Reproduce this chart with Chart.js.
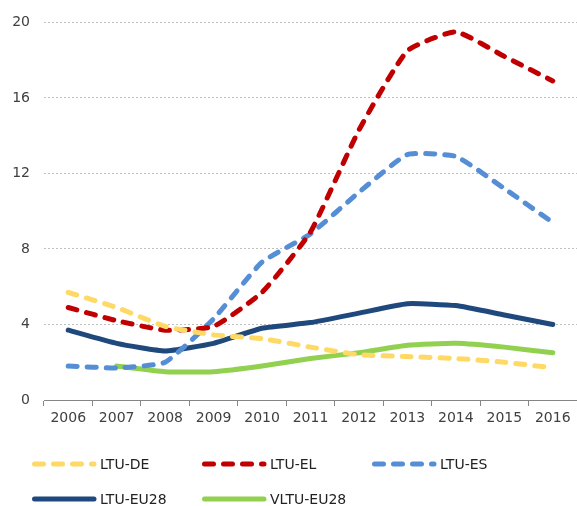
<!DOCTYPE html>
<html>
<head>
<meta charset="utf-8">
<script src="https://cdn.jsdelivr.net/npm/chart.js@4"></script>
<style>
  html, body { margin: 0; padding: 0; background: #fff; }
  #wrap { width: 577px; height: 506px; position: relative; }
</style>
</head>
<body>
<div id="wrap"><canvas id="chart"></canvas></div>
<script>
const years = ["2006", "2007", "2008", "2009", "2010", "2011", "2012", "2013", "2014", "2015", "2016"];
const ltuDe = [5.7, 4.9, 3.9, 3.45, 3.25, 2.8, 2.4, 2.3, 2.2, 2.0, 1.7];
const ltuEl = [4.9, 4.2, 3.7, 3.9, 5.7, 8.9, 14.3, 18.5, 19.5, 18.2, 16.9];
const ltuEs = [1.8, 1.7, 2.0, 4.3, 7.3, 8.8, 11.0, 13.0, 12.9, 11.2, 9.4];
const ltuEu28 = [3.7, 3.0, 2.6, 3.0, 3.8, 4.1, 4.6, 5.1, 5.0, 4.5, 4.0];
const vltuEu28 = [null, 1.8, 1.5, 1.5, 1.8, 2.2, 2.5, 2.9, 3.0, 2.8, 2.5];
const yTicks = [0, 4, 8, 12, 16, 20];

const FONT = "'DejaVu Sans', Verdana, sans-serif";
const DASH = [9, 10];

function series(label, data, color, dashed) {
  return {
    label,
    data,
    borderColor: color,
    backgroundColor: color,
    borderWidth: 5,
    borderDash: dashed ? DASH : [],
    borderCapStyle: "round",
    borderJoinStyle: "round",
    pointRadius: 0,
    tension: 0.15,
    fill: false,
    spanGaps: false,
  };
}

// legend drawn in a fixed grid like the original
const gridLegend = {
  id: "gridLegend",
  afterDraw(chart) {
    const ctx = chart.ctx;
    const cols = [32, 202, 372];
    const rows = [464, 499];
    chart.data.datasets.forEach((ds, i) => {
      const x = cols[i % 3];
      const y = rows[Math.floor(i / 3)];
      ctx.save();
      ctx.strokeStyle = ds.borderColor;
      ctx.lineWidth = 5;
      ctx.lineCap = "round";
      ctx.setLineDash(ds.borderDash);
      ctx.beginPath();
      ctx.moveTo(x + 2.5, y);
      ctx.lineTo(x + 62, y);
      ctx.stroke();
      ctx.setLineDash([]);
      ctx.fillStyle = "#222";
      ctx.font = "14px " + FONT;
      ctx.textBaseline = "middle";
      ctx.fillText(ds.label, x + 68, y + 1);
      ctx.restore();
    });
  },
};

new Chart(document.getElementById("chart"), {
  type: "line",
  data: {
    labels: years,
    datasets: [
      series("LTU-DE", ltuDe, "#FFD966", true),
      series("LTU-EL", ltuEl, "#C00000", true),
      series("LTU-ES", ltuEs, "#558ED5", true),
      series("LTU-EU28", ltuEu28, "#1F497D", false),
      series("VLTU-EU28", vltuEu28, "#92D050", false),
    ],
  },
  options: {
    responsive: true,
    maintainAspectRatio: false,
    animation: false,
    layout: { padding: { top: 15, right: 0, bottom: 66, left: 0 } },
    plugins: {
      legend: { display: false },
      tooltip: { enabled: false },
    },
    scales: {
      x: {
        offset: true,
        afterFit: (scale) => { scale.height = 40; },
        grid: {
          offset: true,
          drawOnChartArea: false,
          drawTicks: true,
          tickLength: 6,
          color: "#868686",
        },
        border: { display: true, color: "#868686", width: 1 },
        ticks: {
          color: "#404040",
          font: { family: FONT, size: 14 },
          padding: 4,
          maxRotation: 0,
          autoSkip: false,
        },
      },
      y: {
        min: 0,
        max: 20,
        afterFit: (scale) => { scale.width = 44; },
        afterBuildTicks: (scale) => { scale.ticks = yTicks.map((v) => ({ value: v })); },
        grid: {
          drawTicks: false,
          color: (c) => (c.tick.value === 0 ? "rgba(0,0,0,0)" : "#BFBFBF"),
          lineWidth: 1,
        },
        border: { display: false, dash: [2, 2] },
        ticks: {
          color: "#404040",
          font: { family: FONT, size: 14 },
          padding: 14,
        },
      },
    },
  },
  plugins: [gridLegend],
});
</script>
</body>
</html>
